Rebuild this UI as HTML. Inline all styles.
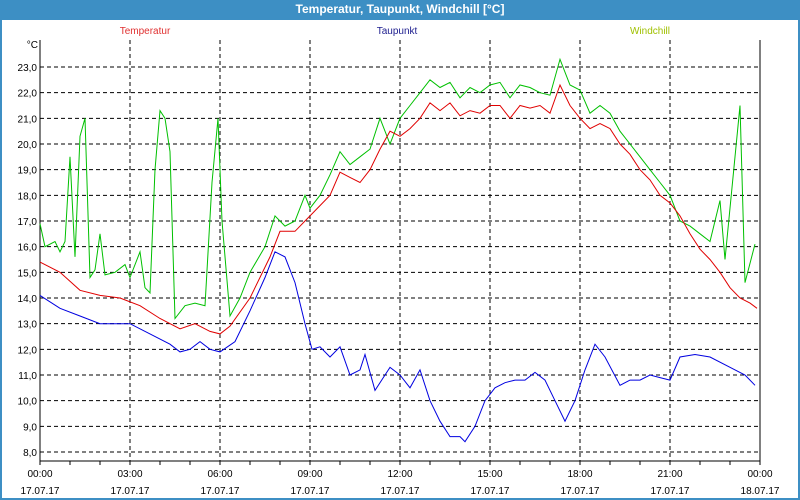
<!DOCTYPE html>
<html><head><meta charset="utf-8"><style>
html,body{margin:0;padding:0;background:#fff}
#w{position:relative;width:800px;height:500px;box-sizing:border-box;border:2px solid #3d8fc4;border-top:none;background:#fff;font-family:"Liberation Sans",sans-serif}
#t{position:absolute;left:-2px;top:0;width:800px;height:20px;background:#3d8fc4;color:#fff;font-weight:bold;font-size:12px;text-align:center;line-height:19px}
svg{position:absolute;left:-2px;top:0}
</style></head><body>
<div id="w"><div id="t">Temperatur, Taupunkt, Windchill [°C]</div>
<svg id="s" width="800" height="500" font-family="Liberation Sans, sans-serif" font-size="10"></svg></div>
<script>
const s=document.getElementById('s');let h='';
const Y=v=>67+(23-v)*25.667;
h+='<text x="145" y="34" fill="#e03030" text-anchor="middle">Temperatur</text>';
h+='<text x="397" y="34" fill="#202090" text-anchor="middle">Taupunkt</text>';
h+='<text x="650" y="34" fill="#a0c000" text-anchor="middle">Windchill</text>';
h+='<text x="38" y="48" text-anchor="end" fill="#000">°C</text>';
for(let v=8;v<=23;v++){const y=Y(v);h+=`<line x1="40" x2="760" y1="${y}" y2="${y}" stroke="#000" stroke-dasharray="4,3"/>`;h+=`<text x="37" y="${y+4}" text-anchor="end">${v},0</text>`;}
for(let i=0;i<=24;i++){const x=40+i*30;h+=`<line x1="${x}" x2="${x}" y1="461" y2="465" stroke="#000"/>`;
 if(i%3==0){if(i>0&&i<24)h+=`<line x1="${x}" x2="${x}" y1="40" y2="461" stroke="#000" stroke-dasharray="4,3"/>`;
 const hh=(i%24).toString().padStart(2,'0');h+=`<text x="${x}" y="477" text-anchor="middle">${hh}:00</text><text x="${x}" y="494" text-anchor="middle">${i==24?'18':'17'}.07.17</text>`;}}
h+='<polyline points="40,40 40,461 760,461 760,40" fill="none" stroke="#000"/>';
function L(d,c){let p=[];for(let i=0;i<d.length;i+=2)p.push(d[i]+','+Y(d[i+1]).toFixed(1));h+=`<polyline points="${p.join(' ')}" fill="none" stroke="${c}"/>`;}
L([40,16.9,45,16.0,55,16.2,60,15.8,65,16.2,70,19.5,75,15.6,80,20.3,85,21.0,90,14.8,95,15.1,100,16.5,105,14.9,115,15.0,125,15.3,130,14.8,140,15.8,145,14.4,150,14.2,155,19.0,160,21.3,165,21.0,170,19.7,175,13.2,185,13.7,195,13.8,205,13.7,212,18.5,218,21.0,222,17.0,230,13.3,240,14.0,250,15.0,265,16.0,275,17.2,285,16.8,295,17.0,305,18.0,310,17.5,320,18.0,330,18.8,340,19.7,350,19.2,360,19.5,370,19.8,380,21.0,390,20.0,400,21.0,410,21.5,420,22.0,430,22.5,440,22.2,450,22.4,460,21.8,470,22.2,480,22.0,490,22.3,500,22.4,510,21.8,520,22.3,530,22.2,540,22.0,550,21.9,560,23.3,570,22.3,580,22.1,590,21.2,600,21.5,610,21.2,620,20.5,630,20.0,640,19.5,650,19.0,660,18.5,670,18.0,680,17.0,690,16.8,700,16.5,710,16.2,720,17.8,725,15.5,735,19.5,740,21.5,745,14.6,755,16.1],'#00c000');
L([40,15.4,60,15.0,80,14.3,100,14.1,120,14.0,140,13.7,160,13.2,180,12.8,195,13.0,210,12.7,220,12.6,230,12.9,250,14.0,270,15.6,280,16.6,295,16.6,305,17.0,320,17.6,330,18.0,340,18.9,350,18.7,360,18.5,370,19.0,380,19.8,390,20.5,400,20.3,410,20.6,420,21.0,430,21.6,440,21.3,450,21.6,460,21.1,470,21.3,480,21.2,490,21.5,500,21.5,510,21.0,520,21.5,530,21.4,540,21.5,550,21.2,560,22.3,570,21.5,580,21.0,590,20.6,600,20.8,610,20.6,620,20.0,630,19.6,640,19.0,650,18.6,660,18.0,670,17.7,680,17.2,690,16.5,700,15.9,710,15.5,720,15.0,730,14.4,740,14.0,750,13.8,757,13.6],'#e00000');
L([40,14.1,60,13.6,80,13.3,100,13.0,130,13.0,150,12.6,170,12.2,180,11.9,190,12.0,200,12.3,210,12.0,220,11.9,235,12.3,250,13.5,265,14.8,275,15.8,285,15.6,295,14.6,305,13.0,312,12.0,320,12.1,330,11.7,340,12.1,350,11.0,360,11.2,365,11.8,375,10.4,385,11.0,390,11.3,400,11.0,410,10.5,420,11.2,430,10.0,440,9.2,450,8.6,460,8.6,465,8.4,475,9.0,485,10.0,495,10.5,505,10.7,515,10.8,525,10.8,535,11.1,545,10.8,555,10.0,565,9.2,575,10.0,585,11.2,595,12.2,605,11.7,620,10.6,630,10.8,640,10.8,650,11.0,660,10.9,670,10.8,680,11.7,695,11.8,710,11.7,730,11.3,745,11.0,755,10.6],'#0000e0');
s.innerHTML=h;
</script></body></html>
